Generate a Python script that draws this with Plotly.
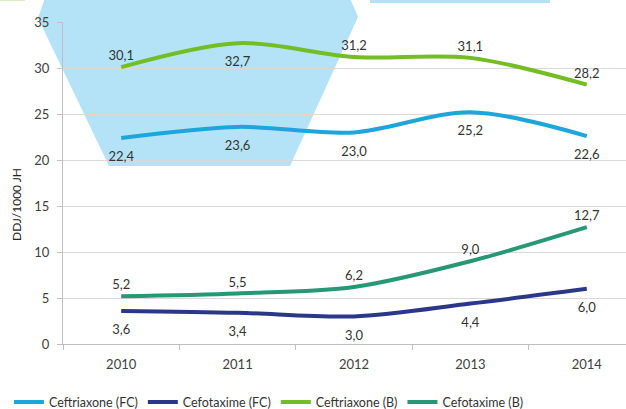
import plotly.graph_objects as go

years = ['2010', '2011', '2012', '2013', '2014']

ceftriaxone_fc = [22.4, 23.6, 23.0, 25.2, 22.6]
cefotaxime_fc = [3.6, 3.4, 3.0, 4.4, 6.0]
ceftriaxone_b = [30.1, 32.7, 31.2, 31.1, 28.2]
cefotaxime_b = [5.2, 5.5, 6.2, 9.0, 12.7]

# where the value label sits for each point
ceftriaxone_fc_pos = ['bottom center'] * 5
cefotaxime_fc_pos = ['bottom center'] * 5
ceftriaxone_b_pos = ['top center', 'bottom center', 'top center', 'top center', 'top center']
cefotaxime_b_pos = ['top center'] * 5

W, H = 626, 409
L, R, T, B = 63, 0, 22, 65
PW, PH = W - L - R, H - T - B
FONT = 'Lato'


def px2paper(x, y):
    return (x - L) / PW, (H - B - y) / PH


def path(points):
    pts = [px2paper(x, y) for x, y in points]
    return 'M ' + ' L '.join(f'{a:.4f},{b:.4f}' for a, b in pts) + ' Z'


series = [
    ('Ceftriaxone (FC)', ceftriaxone_fc, ceftriaxone_fc_pos, '#1ea6dc'),
    ('Cefotaxime (FC)', cefotaxime_fc, cefotaxime_fc_pos, '#2b3889'),
    ('Ceftriaxone (B)', ceftriaxone_b, ceftriaxone_b_pos, '#74bd24'),
    ('Cefotaxime (B)', cefotaxime_b, cefotaxime_b_pos, '#279874'),
]

fig = go.Figure()
for name, vals, pos, color in series:
    fig.add_trace(go.Scatter(x=years, y=vals, name=name, mode='lines',
                             line=dict(color=color, width=4, shape='spline', smoothing=0.9),
                             hoverinfo='x+y+name'))
for name, vals, pos, color in series:
    # value labels, pushed off the line by an invisible marker
    fig.add_trace(go.Scatter(x=years, y=vals, mode='markers+text', showlegend=False,
                             text=[f'{v:.1f}'.replace('.', ',') for v in vals],
                             textposition=pos,
                             textfont=dict(family=FONT, size=13, color='#333333'),
                             marker=dict(size=[4 if p.startswith('top') else 20 for p in pos],
                                         opacity=0),
                             hoverinfo='skip'))

blue = 'rgb(180,227,247)'
shapes = [
    dict(type='path', xref='paper', yref='paper', layer='below', line_width=0, fillcolor=blue,
         path=path([(45, -2), (350, -2), (358, 17), (290, 166), (109, 166), (38, 18)])),
    dict(type='path', xref='paper', yref='paper', layer='below', line_width=0, fillcolor=blue,
         path=path([(370, -2), (550, -2), (550, 3), (370, 3)])),
    dict(type='path', xref='paper', yref='paper', layer='below', line_width=0, fillcolor='#dcefc4',
         path=path([(0, -2), (25, -2), (25, 1), (0, 1)])),
]

fig.update_layout(
    width=W, height=H,
    margin=dict(l=L, r=R, t=T, b=B, autoexpand=False),
    paper_bgcolor='white',
    plot_bgcolor='rgba(0,0,0,0)',
    font=dict(family=FONT, size=13, color='#404040'),
    shapes=shapes,
    showlegend=True,
    legend=dict(orientation='h', x=-0.096, xanchor='left', y=-0.135, yanchor='top',
                font=dict(family=FONT, size=12.5, color='#333333'),
                itemwidth=30, tracegroupgap=0, bgcolor='rgba(0,0,0,0)'),
    annotations=[dict(text='DDJ/1000 JH', xref='paper', yref='paper',
                      x=px2paper(16, 0)[0], y=px2paper(0, 205)[1],
                      textangle=-90, showarrow=False, xanchor='center', yanchor='middle',
                      font=dict(family=FONT, size=12, color='#222222'))],
    xaxis=dict(type='category', range=[-0.5, 4.337], showgrid=False,
               showline=True, linecolor='#bfbfbf', linewidth=1,
               ticks='outside', tickson='boundaries', ticklen=5, tickcolor='#bfbfbf',
               ticklabelstandoff=8,
               tickfont=dict(family=FONT, size=13, color='#404040')),
    yaxis=dict(range=[0, 35], dtick=5, showgrid=True, gridcolor='#d9d9d9', gridwidth=1,
               zeroline=False, showline=True, linecolor='#bfbfbf', linewidth=1,
               ticks='outside', ticklen=5, tickcolor='#bfbfbf', ticklabelstandoff=5,
               tickfont=dict(family=FONT, size=13, color='#404040')),
)

fig.write_html('out.html', config={'displayModeBar': False},
               post_script="document.body.style.margin='0';")
